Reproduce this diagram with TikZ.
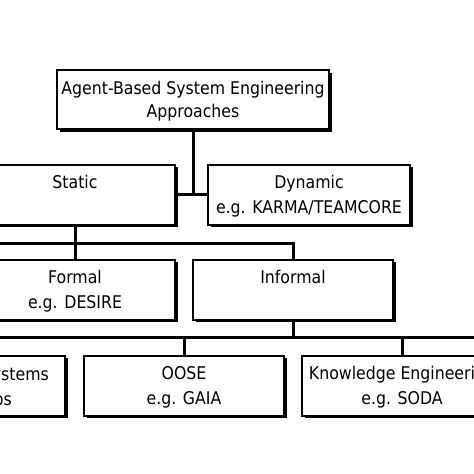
\documentclass[tikz,border=0pt]{standalone}
\usepackage{fontspec}
\setmainfont{DejaVu Sans Condensed}
\usetikzlibrary{shadows}
\begin{document}
\begin{tikzpicture}[x=1pt,y=-1pt,
  box/.style={draw=black, line width=2pt, fill=white, minimum width=200pt, minimum height=60pt,
    align=center, inner sep=0pt, font=\fontsize{17.5}{25}\selectfont,
    text height=42pt, text depth=4pt,
    drop shadow={shadow xshift=2.5pt, shadow yshift=-2.5pt, fill=black, opacity=1}},
  lbl/.style={inner sep=0pt, font=\fontsize{17.5}{25}\selectfont},
  conn/.style={line width=3pt, line cap=rect}]
\useasboundingbox (0,0) rectangle (474,474);
\clip (0,0) rectangle (474,474);
\fill[white] (0,0) rectangle (474,474);
% coordinates for buses
\coordinate (bus1W) at (-20,243);
\coordinate (bus2W) at (-20,337);
\coordinate (bus2E) at (500,337);
% nodes
\node[box, minimum width=272pt, minimum height=59pt, font=\fontsize{17.5}{23.5}\selectfont, text height=40pt] (top) at (193,99.5) {Agent-Based System Engineering\\Approaches};
\node[box] (static) at (75,194.5) {Static\\\phantom{g}};
\node[box, minimum width=202pt] (dynamic) at (309,194.5) {Dynamic\\e.g. KARMA/TEAMCORE};
\node[box] (formal) at (75,289.5) {Formal\\e.g. DESIRE};
\node[box] (informal) at (293,289.5) {Informal\\\phantom{g}};
\node[box] (left) at (-35,385.5) {};
\node[lbl, anchor=base east] (leftA) at (49,380) {Distributed Systems};
\node[lbl, anchor=base east] (leftB) at (12,405) {e.g. Apps};
\node[box] (oose) at (184,385.5) {OOSE\\e.g. GAIA};
\node[box] (know) at (402,385.5) {Knowledge Engineering\\e.g. SODA};
% connectors
\draw[conn] (top.south) -- (top.south |- static.east);
\draw[conn] (static.east) -- (dynamic.west);
\draw[conn] (static.south) -- (formal.north);
\draw[conn] (bus1W) -- (informal.north |- bus1W) -- (informal.north);
\draw[conn] (informal.south) -- (informal.south |- bus2W);
\draw[conn] (bus2W) -- (bus2E);
\draw[conn] (oose.north |- bus2W) -- (oose.north);
\draw[conn] (know.north |- bus2W) -- (know.north);
\end{tikzpicture}
\end{document}
